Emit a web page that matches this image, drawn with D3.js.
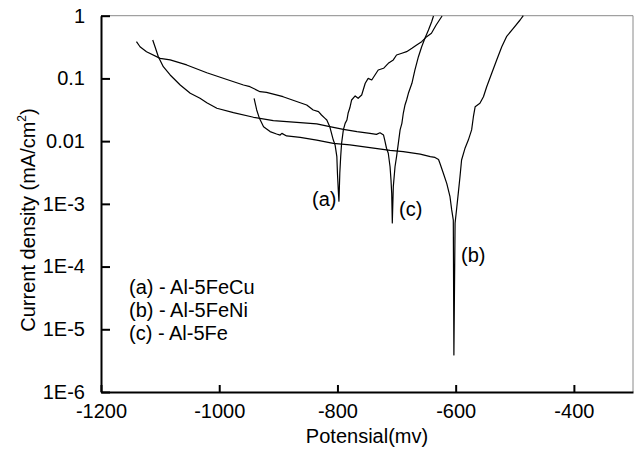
<!DOCTYPE html>
<html><head><meta charset="utf-8">
<script src="https://cdn.jsdelivr.net/npm/d3@7"></script>
<style>
html,body{margin:0;padding:0;background:#fff;}
svg text{font-family:"Liberation Sans",Arial,sans-serif;fill:#000;}
</style></head>
<body>
<svg id="chart" width="636" height="449"></svg>
<script>
// ---- data ----
const xTicks = [-1200, -1000, -800, -600, -400];
const yTicks = [1, 0.1, 0.01, 1e-3, 1e-4, 1e-5, 1e-6];
const yTickLabels = ["1", "0.1", "0.01", "1E-3", "1E-4", "1E-5", "1E-6"];
const legendLabels = ["(a) - Al-5FeCu", "(b) - Al-5FeNi", "(c) - Al-5Fe"];
const curveTags = ["(a)", "(b)", "(c)"];

// (a) Al-5FeCu
const aPotential = [-1140,-1134,-1123,-1100,-1083,-1055,-1021,-987,-959,-948,-931,-920,-892,-863,-852,-841,-832,-827,-821,-818,-813,-810,-807,-804,-801,-800,-798.6,-797.5,
  -797,-796,-794.5,-793,-790,-787,-784,-782,-779,-776,-770,-765,-759,-753,-748,-742,-736.5,-731,-722,-714,-705.5,-700,-691,-683,-674,-666,-657.5,-649,-641,-633,-623];
const aCurrent = [0.385,0.32,0.267,0.209,0.197,0.164,0.123,0.096,0.0786,0.0738,0.0614,0.06,0.0511,0.041,0.0377,0.0314,0.0295,0.0261,0.0231,0.0217,0.017,0.0133,0.0104,0.0087,0.00565,0.00307,0.00166,0.0011,
  0.0015,0.0031,0.0057,0.0092,0.0151,0.0192,0.0217,0.0278,0.034,0.0453,0.0525,0.0482,0.0544,0.0836,0.1,0.0944,0.1135,0.136,0.145,0.174,0.197,0.236,0.252,0.267,0.302,0.341,0.385,0.463,0.524,0.711,0.99];

// (b) Al-5FeNi
const bPotential = [-941,-936.6,-932,-925,-914,-903,-897,-894,-886,-863,-835,-807,-779,-745,-711,-688.6,-660,-643,-635,-629,-626.5,-621,-615,-609.6,-606.7,-604,-603,
  -601,-598,-595.6,-592.7,-590,-584,-578.6,-573,-570,-567,-559,-553,-547.5,-539,-530.6,-522,-514,-502.5,-491,-485.6];
const bCurrent = [0.0482,0.0314,0.0231,0.017,0.0142,0.013,0.0125,0.0133,0.0121,0.0115,0.0104,0.0092,0.0087,0.0079,0.0071,0.0068,0.0062,0.00565,0.0055,0.0051,0.0044,0.0031,0.0021,0.0013,0.0008,0.00055,3.9e-6,
  0.00049,0.0009,0.00147,0.0027,0.005,0.0078,0.0104,0.0151,0.0245,0.0354,0.0401,0.0511,0.0738,0.121,0.197,0.32,0.463,0.63,0.854,1.0];

// (c) Al-5Fe
const cPotential = [-1112.5,-1108.6,-1103,-1094.6,-1083,-1066,-1049,-1032.5,-1021,-1004,-976,-942,-908.5,-863,-835,-813,-790,-767,-745,-734,-728,-722,-720,-717,-714,-711,-709.4,-708.2,-707.2,
  -705.5,-702.6,-700,-697,-694,-691,-688.6,-685.7,-683,-680,-674,-669,-663,-657.5,-652,-646,-640.6,-637.5];
const cCurrent = [0.41,0.32,0.222,0.154,0.1135,0.0786,0.0579,0.0482,0.041,0.0334,0.0284,0.024,0.0212,0.0198,0.0188,0.017,0.0154,0.0142,0.0133,0.0128,0.0136,0.0125,0.0104,0.0077,0.0064,0.0039,0.0024,0.00147,0.000495,
  0.00188,0.0039,0.00565,0.0092,0.0151,0.0192,0.0278,0.0377,0.0453,0.0579,0.0836,0.136,0.222,0.32,0.436,0.592,0.802,0.99];

// ---- chart ----
const svg = d3.select("#chart");
const L = 101, R = 633, T = 15.7, B = 392;
const x = d3.scaleLinear().domain([-1200, -300]).range([L, R]);
const y = d3.scaleLog().domain([1e-6, 1]).range([B, T]);

// top / right frame
svg.append("line").attr("x1", L).attr("x2", R).attr("y1", T).attr("y2", T)
  .attr("stroke", "#8a8a8a").attr("stroke-width", 1);
svg.append("line").attr("x1", R).attr("x2", R).attr("y1", T).attr("y2", B)
  .attr("stroke", "#8a8a8a").attr("stroke-width", 1);

// curves
const series = [
  {p: aPotential, c: aCurrent},
  {p: bPotential, c: bCurrent},
  {p: cPotential, c: cCurrent}
];
const line = d3.line().x(d => x(d[0])).y(d => y(d[1]));
series.forEach(s => {
  const pts = s.p.map((v, i) => [v, s.c[i]]);
  svg.append("path").attr("d", line(pts)).attr("fill", "none")
    .attr("stroke", "#000").attr("stroke-width", 1.2).attr("stroke-linejoin", "round");
});

// axes
const xAxis = d3.axisBottom(x).tickValues(xTicks).tickSize(-7).tickSizeOuter(0).tickPadding(12)
  .tickFormat(d => String(d));
const gx = svg.append("g").attr("transform", `translate(0,${B})`).call(xAxis);
const yAxis = d3.axisLeft(y).tickValues(yTicks).tickSize(-9).tickSizeOuter(0).tickPadding(16)
  .tickFormat((d, i) => yTickLabels[i]);
const gy = svg.append("g").attr("transform", `translate(${L},0)`).call(yAxis);
[gx, gy].forEach(g => {
  g.select(".domain").attr("stroke", "#000").attr("stroke-width", 2);
  g.selectAll(".tick line").attr("stroke", "#000").attr("stroke-width", 2);
  g.selectAll(".tick text").attr("font-size", 20).attr("font-family", "Liberation Sans, Arial, sans-serif").attr("fill", "#000");
});

// axis titles
svg.append("text").attr("x", (L + R) / 2).attr("y", 443).attr("text-anchor", "middle")
  .attr("font-size", 20).text("Potensial(mv)");
const yt = svg.append("text").attr("transform", "translate(35,220) rotate(-90)")
  .attr("text-anchor", "middle").attr("font-size", 20);
yt.append("tspan").text("Current density (mA/cm");
yt.append("tspan").attr("font-size", 12).attr("dy", -9).text("2");
yt.append("tspan").attr("dy", 9).text(")");

// legend text
legendLabels.forEach((t, i) => {
  svg.append("text").attr("x", 129).attr("y", 294 + i * 23).attr("font-size", 20).text(t);
});

// curve tags
const tagPos = [[312, 206], [461, 262], [399, 216]];
curveTags.forEach((t, i) => {
  svg.append("text").attr("x", tagPos[i][0]).attr("y", tagPos[i][1]).attr("font-size", 20).text(t);
});
</script>
</body></html>
